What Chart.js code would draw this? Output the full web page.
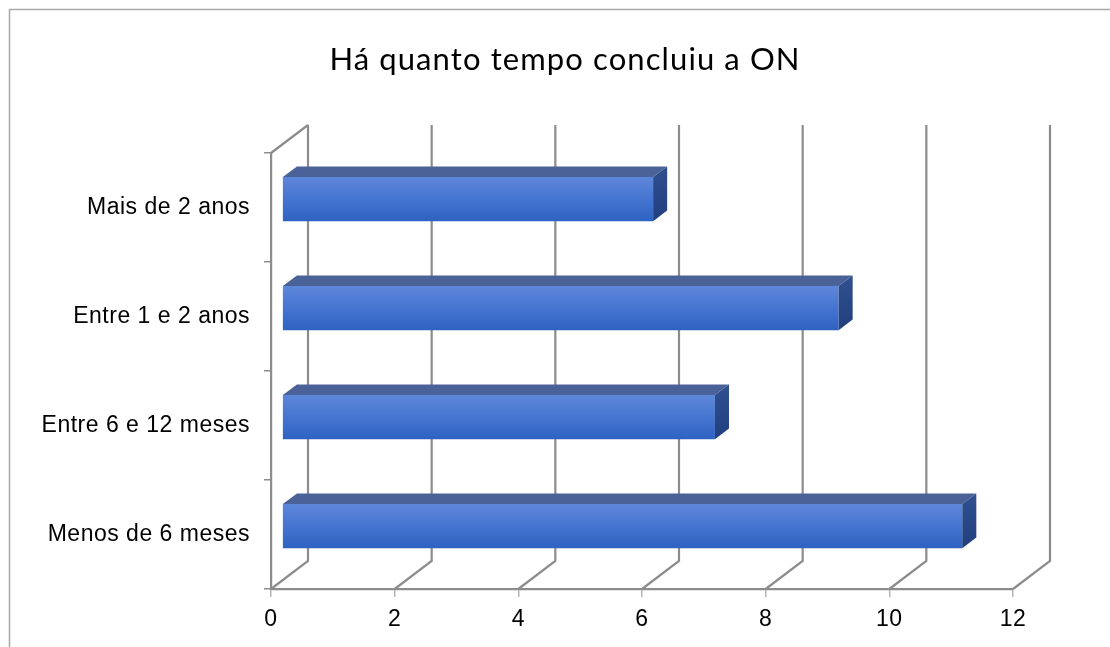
<!DOCTYPE html>
<html>
<head>
<meta charset="utf-8">
<script src="https://cdn.jsdelivr.net/npm/chart.js@4.4.1/dist/chart.umd.min.js"></script>
<style>
  html, body { margin: 0; padding: 0; background: #ffffff; }
  #wrap { width: 1110px; height: 647px; position: relative; }
</style>
</head>
<body>
<div id="wrap"><canvas id="chart" width="1110" height="647"></canvas></div>
<script>
// Survey answers: how long ago the respondent finished the course
const categories = ['Mais de 2 anos', 'Entre 1 e 2 anos', 'Entre 6 e 12 meses', 'Menos de 6 meses'];
const counts = [6, 9, 7, 11];
const xTicks = [0, 2, 4, 6, 8, 10, 12];
const titleText = 'Há quanto tempo concluiu a ON';

// 3D box look: depth of the plot box, and where the bars sit inside it
const DEPTH_X = 37;
const DEPTH_Y = -28;
const BAR_FRONT = 0.30;
const BAR_BACK = 0.68;
const BAR_PCT = 0.405;

const WALL_COLOR = '#8c8c8c';
const AXIS_FONT = { family: '"Liberation Sans", Arial, sans-serif', size: 23 };

function frontGradient(c) {
  const chart = c.chart;
  const area = chart.chartArea;
  if (!area || c.dataIndex === undefined) return '#3f70cc';
  const yScale = chart.scales.y;
  const yc = yScale.getPixelForValue(c.dataIndex);
  const h = yScale.height / categories.length * BAR_PCT;
  const g = chart.ctx.createLinearGradient(0, yc - h / 2, 0, yc + h / 2);
  g.addColorStop(0, '#5d87d9');
  g.addColorStop(0.08, '#5a84d8');
  g.addColorStop(0.55, '#4273cf');
  g.addColorStop(1, '#2e62c1');
  return g;
}

const box3d = {
  id: 'box3d',
  beforeDraw(chart) {
    const ctx = chart.ctx;
    ctx.save();
    ctx.fillStyle = '#ffffff';
    ctx.fillRect(0, 0, chart.width, chart.height);
    // outer frame
    ctx.strokeStyle = '#a8a8a8';
    ctx.lineWidth = 1.5;
    ctx.beginPath();
    ctx.moveTo(9.5, chart.height + 5);
    ctx.lineTo(9.5, 9.5);
    ctx.lineTo(chart.width + 5, 9.5);
    ctx.stroke();
    // title
    ctx.fillStyle = '#000000';
    ctx.font = '31px Lato, "Open Sans", sans-serif';
    if ('letterSpacing' in ctx) ctx.letterSpacing = '1.1px';
    ctx.textAlign = 'center';
    ctx.textBaseline = 'alphabetic';
    ctx.fillText(titleText, 565, 70);
    ctx.restore();
    // slightly looser lettering for the axis labels
    if ('letterSpacing' in ctx) ctx.letterSpacing = '0.5px';
  },
  beforeDatasetsDraw(chart) {
    const ctx = chart.ctx;
    const { top, bottom, left } = chart.chartArea;
    const xs = chart.scales.x;
    ctx.save();
    ctx.strokeStyle = WALL_COLOR;
    ctx.lineWidth = 2.2;
    ctx.lineCap = 'butt';
    ctx.beginPath();
    // side wall top edge
    ctx.moveTo(left, top);
    ctx.lineTo(left + DEPTH_X, top + DEPTH_Y);
    xs.ticks.forEach(t => {
      const x = xs.getPixelForValue(t.value);
      // floor diagonal
      ctx.moveTo(x, bottom);
      ctx.lineTo(x + DEPTH_X, bottom + DEPTH_Y);
      // back wall gridline
      ctx.lineTo(x + DEPTH_X, top + DEPTH_Y);
    });
    ctx.stroke();
    ctx.restore();

    // front faces of the bars are pushed into the box
    ctx.save();
    ctx.translate(DEPTH_X * BAR_FRONT, DEPTH_Y * BAR_FRONT);
  },
  afterDatasetsDraw(chart) {
    const ctx = chart.ctx;
    ctx.restore();
    const ox = DEPTH_X * BAR_FRONT, oy = DEPTH_Y * BAR_FRONT;
    const dx = DEPTH_X * (BAR_BACK - BAR_FRONT), dy = DEPTH_Y * (BAR_BACK - BAR_FRONT);
    const meta = chart.getDatasetMeta(0);
    ctx.save();
    meta.data.forEach(bar => {
      const p = bar.getProps(['x', 'y', 'base', 'height'], true);
      const x0 = Math.min(p.base, p.x) + ox;
      const x1 = Math.max(p.base, p.x) + ox;
      const y0 = p.y - p.height / 2 + oy;
      const y1 = p.y + p.height / 2 + oy;
      // top face
      ctx.fillStyle = '#4b6299';
      ctx.beginPath();
      ctx.moveTo(x0, y0);
      ctx.lineTo(x1, y0);
      ctx.lineTo(x1 + dx, y0 + dy);
      ctx.lineTo(x0 + dx, y0 + dy);
      ctx.closePath();
      ctx.fill();
      // end face
      const g = ctx.createLinearGradient(0, y0 + dy, 0, y1);
      g.addColorStop(0, '#30508f');
      g.addColorStop(1, '#223f7e');
      ctx.fillStyle = g;
      ctx.beginPath();
      ctx.moveTo(x1, y0);
      ctx.lineTo(x1 + dx, y0 + dy);
      ctx.lineTo(x1 + dx, y1 + dy);
      ctx.lineTo(x1, y1);
      ctx.closePath();
      ctx.fill();
    });
    ctx.restore();
  }
};

new Chart(document.getElementById('chart'), {
  type: 'bar',
  data: {
    labels: categories,
    datasets: [{
      data: counts,
      backgroundColor: frontGradient,
      borderWidth: 0,
      categoryPercentage: 1,
      barPercentage: BAR_PCT
    }]
  },
  options: {
    indexAxis: 'y',
    responsive: false,
    animation: false,
    events: [],
    layout: { padding: { top: 153, right: 97, bottom: 0, left: 0 } },
    plugins: {
      legend: { display: false },
      title: { display: false },
      tooltip: { enabled: false }
    },
    scales: {
      x: {
        min: xTicks[0],
        max: xTicks[xTicks.length - 1],
        ticks: {
          stepSize: xTicks[1] - xTicks[0],
          color: '#000000',
          font: AXIS_FONT,
          padding: 9
        },
        grid: { drawOnChartArea: false, tickLength: 8, color: '#b4b4b4', lineWidth: 1.5 },
        border: { display: true, color: WALL_COLOR, width: 2.2 },
        afterFit(scale) { scale.height = 58; }
      },
      y: {
        ticks: {
          color: '#000000',
          font: AXIS_FONT,
          padding: 14
        },
        grid: { drawOnChartArea: false, tickLength: 7, color: WALL_COLOR, lineWidth: 1.5, offset: true },
        border: { display: true, color: WALL_COLOR, width: 2.2 },
        afterFit(scale) { scale.width = 271; }
      }
    }
  },
  plugins: [box3d]
});
</script>
</body>
</html>
